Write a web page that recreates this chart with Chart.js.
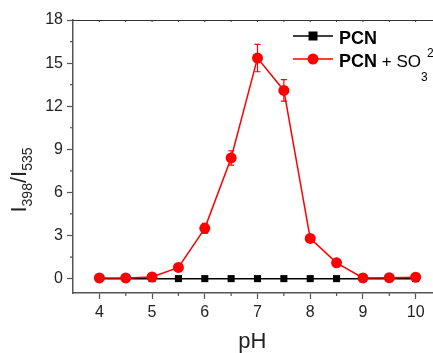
<!DOCTYPE html>
<html>
<head>
<meta charset="utf-8">
<script src="https://cdn.jsdelivr.net/npm/chart.js@4.4.0/dist/chart.umd.min.js"></script>
<style>
  html, body { margin: 0; padding: 0; background: #fff; overflow: hidden; }
  #wrap { width: 433px; height: 353px; overflow: hidden; }
</style>
</head>
<body>
<div id="wrap"><canvas id="chart" width="460" height="353"></canvas></div>
<script>
const phValues = [4, 4.5, 5, 5.5, 6, 6.5, 7, 7.5, 8, 8.5, 9, 9.5, 10];
const pcn = [0, 0, 0, 0, 0, 0, 0, 0, 0, 0, 0, 0, 0];
const pcnSulfite = [0.05, 0.05, 0.12, 0.78, 3.5, 8.4, 15.35, 13.1, 2.8, 1.1, 0.05, 0.07, 0.1];
const pcnSulfiteErr = [0, 0, 0, 0.05, 0.35, 0.5, 0.95, 0.75, 0.25, 0.1, 0, 0, 0];
const xTicks = [4, 4.5, 5, 5.5, 6, 6.5, 7, 7.5, 8, 8.5, 9, 9.5, 10, 10.5];
const yTicks = [0, 1.5, 3, 4.5, 6, 7.5, 9, 10.5, 12, 13.5, 15, 16.5, 18];

const axisColor = '#555';
const font = '"Liberation Sans", Arial, sans-serif';

// error bars, minor ticks, top frame, titles and legend
const extras = {
    id: 'extras',
    afterDatasetsDraw(chart) {
        const c = chart.ctx, x = chart.scales.x, y = chart.scales.y;
        c.save();
        c.strokeStyle = 'red';
        c.lineWidth = 1.2;
        pcnSulfite.forEach((v, i) => {
            const e = pcnSulfiteErr[i];
            if (!e) return;
            const px = x.getPixelForValue(phValues[i]);
            const top = y.getPixelForValue(v + e), bot = y.getPixelForValue(v - e);
            c.beginPath();
            c.moveTo(px, top); c.lineTo(px, bot);
            c.moveTo(px - 3, top); c.lineTo(px + 3, top);
            c.moveTo(px - 3, bot); c.lineTo(px + 3, bot);
            c.stroke();
        });
        c.restore();
    },
    afterDraw(chart) {
        const c = chart.ctx, x = chart.scales.x, y = chart.scales.y;
        const area = chart.chartArea;
        c.save();
        // minor ticks
        c.strokeStyle = axisColor;
        c.lineWidth = 1.2;
        c.beginPath();
        xTicks.forEach(v => {
            if (Number.isInteger(v)) return;
            const px = x.getPixelForValue(v);
            c.moveTo(px, area.bottom); c.lineTo(px, area.bottom + 3);
        });
        yTicks.forEach(v => {
            if (v % 3 === 0) return;
            const py = y.getPixelForValue(v);
            c.moveTo(area.left, py); c.lineTo(area.left - 3, py);
        });
        c.stroke();
        // top frame
        c.strokeStyle = '#333';
        c.lineWidth = 1;
        c.beginPath();
        c.moveTo(area.left, area.top + 0.5); c.lineTo(area.right, area.top + 0.5);
        xTicks.forEach(v => {
            const px = x.getPixelForValue(v);
            c.moveTo(px, area.top); c.lineTo(px, area.top + 2);
        });
        c.stroke();

        // axis titles
        c.fillStyle = '#222';
        c.font = '22px ' + font;
        c.textAlign = 'center';
        c.textBaseline = 'alphabetic';
        c.fillText('pH', (area.left + x.getPixelForValue(10)) / 2 + 8, 348);

        c.save();
        c.translate(26, 180);
        c.rotate(-Math.PI / 2);
        const parts = [['I', 22, 0], ['398', 14, 6], ['/I', 22, 0], ['535', 14, 6]];
        let total = 0;
        parts.forEach(p => { c.font = p[1] + 'px ' + font; total += c.measureText(p[0]).width; });
        let cx = -total / 2;
        c.textAlign = 'left';
        parts.forEach(p => {
            c.font = p[1] + 'px ' + font;
            c.fillText(p[0], cx, p[2]);
            cx += c.measureText(p[0]).width;
        });
        c.restore();

        // legend
        const lx = 293, lw = 40;
        [[36, 'black', 'rect'], [59, 'red', 'circle']].forEach(([ly, col, shape]) => {
            c.strokeStyle = col;
            c.fillStyle = col;
            c.lineWidth = 1.5;
            c.beginPath();
            c.moveTo(lx, ly); c.lineTo(lx + lw, ly);
            c.stroke();
            c.beginPath();
            if (shape === 'rect') c.rect(lx + lw / 2 - 4.5, ly - 4.5, 9, 9);
            else c.arc(lx + lw / 2, ly, 5.5, 0, Math.PI * 2);
            c.fill();
        });
        c.fillStyle = '#000';
        c.textAlign = 'left';
        c.textBaseline = 'alphabetic';
        c.font = 'bold 18px ' + font;
        c.fillText('PCN', 339, 44);
        c.fillText('PCN', 339, 67);
        let tx = 339 + c.measureText('PCN').width;
        c.font = '17px ' + font;
        c.fillText(' + SO', tx, 67);
        tx += c.measureText(' + SO').width;
        c.font = '12px ' + font;
        c.fillText('3', tx, 81);
        c.fillText('2\u2212', tx + 6, 57);
        c.restore();
    }
};

new Chart(document.getElementById('chart'), {
    type: 'line',
    data: {
        datasets: [
            {
                label: 'PCN + SO3 2-',
                data: phValues.map((p, i) => ({ x: p, y: pcnSulfite[i] })),
                borderColor: 'red',
                backgroundColor: 'red',
                borderWidth: 1.5,
                pointStyle: 'circle',
                pointRadius: 5.5,
                pointBorderWidth: 0,
                order: 0
            },
            {
                label: 'PCN',
                data: phValues.map((p, i) => ({ x: p, y: pcn[i] })),
                borderColor: 'black',
                backgroundColor: 'black',
                borderWidth: 1.5,
                pointStyle: 'rect',
                pointRadius: 5,
                pointBorderWidth: 0,
                order: 1
            }
        ]
    },
    options: {
        responsive: false,
        animation: false,
        layout: { padding: { top: 20, right: 18, left: 0, bottom: 0 } },
        plugins: { legend: { display: false }, tooltip: { enabled: false } },
        scales: {
            x: {
                type: 'linear',
                min: 3.5,
                max: 10.5,
                afterBuildTicks: s => { s.ticks = xTicks.map(v => ({ value: v })); },
                afterFit: s => { s.height = 60; },
                grid: {
                    drawOnChartArea: false,
                    tickLength: 6,
                    tickWidth: 1.2,
                    tickColor: ctx => Number.isInteger(ctx.tick.value) ? axisColor : 'transparent'
                },
                border: { color: axisColor, width: 1.5 },
                ticks: {
                    autoSkip: false,
                    maxRotation: 0,
                    padding: 4,
                    color: '#222',
                    font: { family: font, size: 16 },
                    callback: v => Number.isInteger(v) ? v : ''
                }
            },
            y: {
                min: -1,
                max: 18,
                afterBuildTicks: s => { s.ticks = yTicks.map(v => ({ value: v })); },
                afterFit: s => { s.width = 73; },
                grid: {
                    drawOnChartArea: false,
                    tickLength: 6,
                    tickWidth: 1.2,
                    tickColor: ctx => ctx.tick.value % 3 === 0 ? axisColor : 'transparent'
                },
                border: { color: axisColor, width: 1.5 },
                ticks: {
                    autoSkip: false,
                    padding: 4,
                    color: '#222',
                    font: { family: font, size: 16 },
                    callback: v => v % 3 === 0 ? v : ''
                }
            }
        }
    },
    plugins: [extras]
});
</script>
</body>
</html>
